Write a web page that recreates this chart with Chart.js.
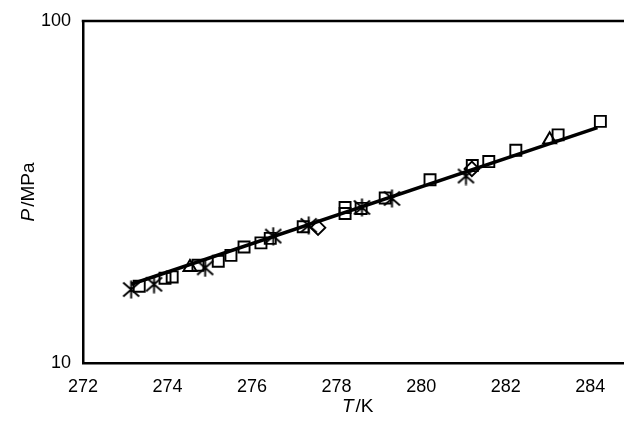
<!DOCTYPE html>
<html>
<head>
<meta charset="utf-8">
<script src="https://cdn.jsdelivr.net/npm/chart.js@4"></script>
<style>
html,body{margin:0;padding:0;overflow:hidden;background:#fff;}
#wrap{width:643px;height:435px;position:relative;overflow:hidden;}
canvas{display:block;}
</style>
</head>
<body>
<div id="wrap"><canvas id="c" width="643" height="435" style="width:643px;height:435px"></canvas></div>
<script>
// ---- data (T in K, P in MPa) ----
const squareT = [273.33, 273.94, 274.11, 274.72, 275.20, 275.50, 275.81, 276.21, 276.43, 277.21, 278.20, 278.20, 278.58, 279.15, 280.21, 281.21, 281.60, 282.24, 283.24, 284.24];
const squareP = [16.77, 17.69, 17.85, 19.31, 19.84, 20.64, 21.83, 22.45, 23.14, 25.03, 28.50, 27.37, 28.31, 30.38, 34.33, 37.78, 38.81, 41.88, 46.46, 50.87];
const triangleT = [274.53, 283.04];
const triangleP = [19.05, 44.98];
const diamondT = [277.56, 281.20];
const diamondP = [24.87, 36.95];
const starT = [273.14, 273.68, 274.89, 276.50, 277.34, 278.60, 279.31, 281.06];
const starP = [16.40, 16.99, 18.98, 23.50, 25.25, 28.50, 30.27, 35.21];
const fitT = [273.14, 284.17];
const fitP = [16.99, 48.75];
const xTicks = [272, 274, 276, 278, 280, 282, 284];
const yTicks = [10, 100];

const pts = (xs, ys) => xs.map((x, i) => ({x: x, y: ys[i]}));

function makeStar(size, lw) {
  const c = document.createElement('canvas');
  c.width = size; c.height = size;
  const g = c.getContext('2d');
  g.strokeStyle = '#000'; g.lineWidth = lw; g.lineCap = 'butt';
  const m = size / 2, e = 1.5;
  g.beginPath();
  g.moveTo(e, e + 1); g.lineTo(size - e, size - e - 1);
  g.moveTo(size - e, e + 1); g.lineTo(e, size - e - 1);
  g.moveTo(m, 0.5); g.lineTo(m, size - 0.5);
  g.stroke();
  return c;
}
const starImg = makeStar(19, 1.9);

const FONT = "'Liberation Sans', Arial, sans-serif";

const framePlugin = {
  id: 'frame',
  afterDraw(chart) {
    const ctx = chart.ctx, a = chart.chartArea;
    ctx.save();
    ctx.strokeStyle = '#000';
    ctx.lineWidth = 2.5;
    ctx.beginPath();
    ctx.moveTo(a.left - 1.25, a.top);
    ctx.lineTo(a.right, a.top);
    ctx.stroke();
    ctx.fillStyle = '#000';
    ctx.textBaseline = 'middle';
    const drawMixed = (parts, cx, cy) => {
      let total = 0;
      parts.forEach(p => { ctx.font = p[1] + ' 19px ' + FONT; total += ctx.measureText(p[0]).width + p[2]; });
      let x = cx - total / 2;
      parts.forEach(p => { ctx.font = p[1] + ' 19px ' + FONT; ctx.textAlign = 'left'; ctx.fillText(p[0], x, cy); x += ctx.measureText(p[0]).width + p[2]; });
    };
    drawMixed([['T', 'italic', 2], ['/K', 'normal', 0]], (a.left + a.right) / 2, 407);
    ctx.save();
    ctx.translate(29, (a.top + a.bottom) / 2);
    ctx.rotate(-Math.PI / 2);
    drawMixed([['P', 'italic', 2], ['/MPa', 'normal', 0]], 0, 0);
    ctx.restore();
    ctx.restore();
  }
};

new Chart(document.getElementById('c'), {
  type: 'scatter',
  data: {
    datasets: [
      { label: 'fit', type: 'line', data: pts(fitT, fitP), showLine: true, borderColor: '#000', borderWidth: 3.5, pointRadius: 0, fill: false, order: 0 },
      { label: 'squares', data: pts(squareT, squareP), pointStyle: 'rect', pointRadius: 7.8, borderColor: '#000', backgroundColor: 'rgba(0,0,0,0)', borderWidth: 1.9, order: 1 },
      { label: 'triangles', data: pts(triangleT, triangleP), pointStyle: 'triangle', pointRadius: 7.5, borderColor: '#000', backgroundColor: 'rgba(0,0,0,0)', borderWidth: 1.9, order: 1 },
      { label: 'diamonds', data: pts(diamondT, diamondP), pointStyle: 'rectRot', pointRadius: 7.3, borderColor: '#000', backgroundColor: 'rgba(0,0,0,0)', borderWidth: 1.9, order: 1 },
      { label: 'stars', data: pts(starT, starP), pointStyle: starImg, pointRadius: 9.5, borderColor: '#000', backgroundColor: 'rgba(0,0,0,0)', order: 1 }
    ]
  },
  options: {
    responsive: false,
    animation: false,
    events: [],
    layout: { padding: { top: 21, right: 0, left: 0, bottom: 0 } },
    plugins: { legend: { display: false }, tooltip: { enabled: false } },
    scales: {
      x: {
        type: 'linear',
        min: 272, max: 285,
        afterBuildTicks: s => { s.ticks = xTicks.map(v => ({value: v})); },
        afterFit: s => { s.height = 72; s.paddingRight = 0; s.paddingLeft = 0; },
        grid: { display: false, drawTicks: false },
        border: { display: true, color: '#000', width: 2.5 },
        ticks: { color: '#000', font: { family: FONT, size: 18 }, padding: 13, maxRotation: 0, callback: v => String(v) }
      },
      y: {
        type: 'logarithmic',
        min: 10, max: 100,
        afterBuildTicks: s => { s.ticks = yTicks.map(v => ({value: v})); },
        afterFit: s => { s.width = 83; s.paddingTop = 0; s.paddingBottom = 0; },
        grid: { display: false, drawTicks: false },
        border: { display: true, color: '#000', width: 2.5 },
        ticks: { color: '#000', font: { family: FONT, size: 18 }, padding: 12, callback: v => String(v) }
      }
    }
  },
  plugins: [framePlugin]
});
</script>
</body>
</html>
